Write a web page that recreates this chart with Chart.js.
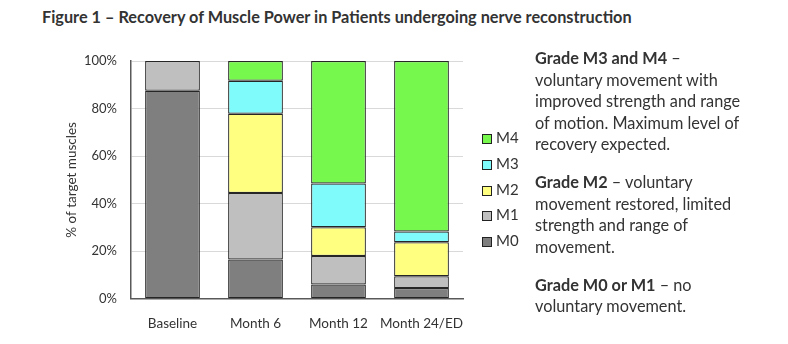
<!DOCTYPE html>
<html>
<head>
<meta charset="utf-8">
<script src="https://cdn.jsdelivr.net/npm/chart.js@4"></script>
<style>
  html, body { margin: 0; padding: 0; background: #fff; }
  body { width: 788px; height: 344px; position: relative; overflow: hidden; font-family: Lato, sans-serif; color: #333; }
  #title { position: absolute; left: 42px; top: 7px; font-size: 16.3px; font-weight: bold; white-space: nowrap; }
  #wrap { position: absolute; left: 0; top: 0; width: 788px; height: 344px; }
  #legend { position: absolute; left: 482px; top: 125px; font-size: 15px; }
  #legend div { height: 25.8px; line-height: 25.8px; white-space: nowrap; }
  #legend span.box { display: inline-block; width: 8px; height: 8px; border: 1px solid #222; margin-right: 4px; vertical-align: -1px; }
  #notes { position: absolute; left: 535px; top: 47px; font-size: 16.3px; line-height: 21.5px; }
  #notes p { margin: 0 0 16.5px 0; }
</style>
</head>
<body>
<div id="title">Figure 1 – Recovery of Muscle Power in Patients undergoing nerve reconstruction</div>
<div id="wrap"><canvas id="powerChart" width="788" height="344"></canvas></div>
<div id="legend"></div>
<div id="notes">
  <p><b>Grade M3 and M4</b> –<br>voluntary movement with<br>improved strength and range<br>of motion. Maximum level of<br>recovery expected.</p>
  <p><b>Grade M2</b> – voluntary<br>movement restored, limited<br>strength and range of<br>movement.</p>
  <p><b>Grade M0 or M1</b> – no<br>voluntary movement.</p>
</div>
<script>
// 측정 시점
const categories = ['Baseline', 'Month 6', 'Month 12', 'Month 24/ED'];

// 근력 등급별 비율 (%)
const m0 = [87.5, 16.5, 6.0, 4.5];
const m1 = [12.5, 28.0, 12.0, 5.0];
const m2 = [null, 33.3, 12.1, 14.3];
const m3 = [null, 13.9, 18.4, 4.5];
const m4 = [null, 8.3, 51.5, 71.7];

const gradeNames = ['M0', 'M1', 'M2', 'M3', 'M4'];
const gradeColors = ['#7f7f7f', '#bfbfbf', '#ffff80', '#80fbfb', '#77f84c'];
const yTicks = [0, 20, 40, 60, 80, 100];

const series = [m0, m1, m2, m3, m4];
const datasets = series.map(function(values, i) {
    return {
        label: gradeNames[i],
        data: values,
        backgroundColor: gradeColors[i],
        borderColor: '#262626',
        borderWidth: 1.2,
        borderSkipped: false,
        categoryPercentage: 1,
        barPercentage: 0.66
    };
});

// 범례 (위에서부터 M4 → M0)
const legend = document.getElementById('legend');
for (let i = gradeNames.length - 1; i >= 0; i--) {
    const row = document.createElement('div');
    row.innerHTML = '<span class="box" style="background:' + gradeColors[i] + '"></span>' + gradeNames[i];
    legend.appendChild(row);
}

Chart.defaults.font.family = 'Lato, sans-serif';
Chart.defaults.color = '#404040';

new Chart(document.getElementById('powerChart'), {
    type: 'bar',
    data: { labels: categories, datasets: datasets },
    options: {
        responsive: false,
        animation: false,
        layout: { padding: { left: 60, right: 325, top: 61, bottom: 3 } },
        plugins: {
            legend: { display: false },
            tooltip: { enabled: false }
        },
        scales: {
            x: {
                stacked: true,
                grid: { display: false },
                border: { color: '#595959', width: 1.5 },
                ticks: { font: { size: 13.5 }, color: '#333', padding: 9, maxRotation: 0, autoSkip: false }
            },
            y: {
                stacked: true,
                min: 0,
                max: 100,
                afterBuildTicks: function(axis) {
                    axis.ticks = yTicks.map(function(v) { return { value: v }; });
                },
                // 축 폭 고정
                afterFit: function(axis) {
                    axis.width = 71;
                },
                grid: { color: '#d9d9d9', lineWidth: 1, drawTicks: false },
                border: { color: '#595959', width: 1.5 },
                ticks: {
                    font: { size: 13 },
                    color: '#333',
                    padding: 14,
                    callback: function(value) { return value + '%'; }
                },
                title: {
                    display: true,
                    text: '% of target muscles',
                    font: { size: 13.5 },
                    color: '#333',
                    padding: { top: 4, bottom: 0 }
                }
            }
        }
    }
});
</script>
</body>
</html>
